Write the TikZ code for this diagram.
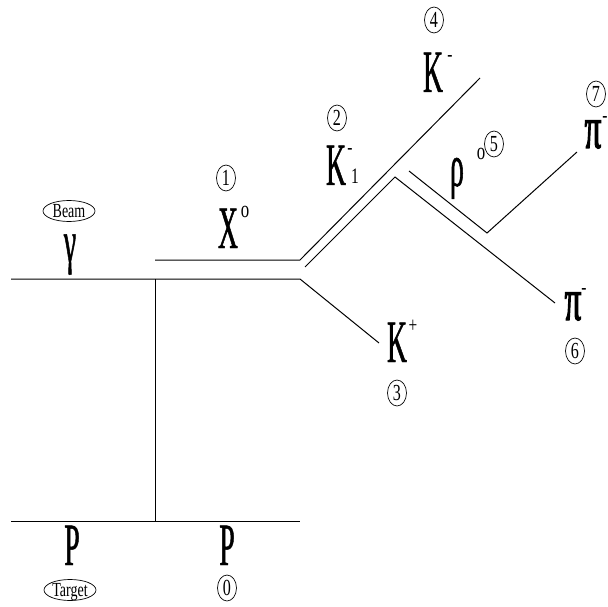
\documentclass[tikz,border=0pt]{standalone}
\usepackage{fontspec}
\setmainfont{Liberation Serif}
\newfontfamily\bigcond[FakeStretch=0.46,FakeBold=0.8]{Liberation Serif}
\newfontfamily\greekcond[FakeStretch=0.55,FakeBold=1.8]{Liberation Serif}
\newfontfamily\smallcond[FakeStretch=0.7]{Liberation Serif}
\usetikzlibrary{shapes.geometric}
\begin{document}
\begin{tikzpicture}[x=1pt,y=-1pt,
  particle/.style={font=\bigcond\fontsize{60}{60}\selectfont, inner sep=0pt, anchor=base,
    text height=30pt, text depth=0pt},
  lowgreek/.style={particle, text height=22pt, text depth=12pt},
  greek/.style={font=\greekcond\fontsize{60}{60}\selectfont, inner sep=0pt, anchor=base,
    text height=24pt, text depth=0pt},
  supo/.style={font=\smallcond\fontsize{24}{24}\selectfont, inner sep=0pt,
    text height=10pt, text depth=0pt},
  supsign/.style={font=\smallcond\fontsize{22}{22}\selectfont, inner sep=0pt,
    text height=10pt, text depth=0pt},
  tag/.style={draw, ellipse, line width=0.7pt, inner sep=0pt, minimum width=19pt,
    minimum height=26pt, text height=15pt, text depth=0pt,
    font=\smallcond\fontsize{23}{23}\selectfont},
  role/.style={draw, ellipse, line width=0.7pt, inner sep=0pt, minimum width=52pt,
    minimum height=21pt, text height=13pt, text depth=0pt,
    font=\smallcond\fontsize{20}{20}\selectfont},
  track/.style={line width=1pt, line join=miter}]
\useasboundingbox (0,0) rectangle (608,607);

% vertices and track ends
\coordinate (beamIn) at (11,279);
\coordinate (vBeam) at (155,279);
\coordinate (vSplit) at (300,279);
\coordinate (kPlusEnd) at (379,343);
\coordinate (xStart) at (155,260);
\coordinate (xEnd) at (300,260);
\coordinate (kMinusEnd) at (480,78);
\coordinate (kOneIn) at (305,267);
\coordinate (vKone) at (395,177);
\coordinate (piSixEnd) at (555,303);
\coordinate (rhoStart) at (409,171);
\coordinate (vRho) at (487,233);
\coordinate (piSevenEnd) at (577,152);
\coordinate (targetIn) at (11,521);
\coordinate (vTarget) at (155,521);
\coordinate (targetOut) at (300,521);

% tracks
\draw[track] (beamIn) -- (vBeam) -- (vSplit) -- (kPlusEnd);
\draw[track] (xStart) -- (xEnd) -- (kMinusEnd);
\draw[track] (kOneIn) -- (vKone) -- (piSixEnd);
\draw[track] (rhoStart) -- (vRho) -- (piSevenEnd);
\draw[track] (vBeam) -- (vTarget);
\draw[track] (targetIn) -- (targetOut);

% beam and target
\node[role] (beam) at (69,211) {Beam};
\node[lowgreek] (gamma) at (70,262) {γ};
\node[particle] (pIn) at (72,565) {P};
\node[role] (target) at (70,590) {Target};
\node[particle] (pOut) at (227,565) {P};
\node[tag] (n0) at (227,588) {0};

% X0
\node[tag] (n1) at (226,178) {1};
\node[particle] (xz) at (228,248) {X};
\node[supo] (xzs) at (245,213) {o};

% K1-
\node[tag] (n2) at (337,118) {2};
\node[particle] (kone) at (336,185) {K};
\node[supsign] (kones) at (350,150) {-};
\node[supsign] (koneb) at (355,178) {1};

% K+
\node[particle] (kp) at (397,362) {K};
\node[supsign] (kps) at (413,327) {+};
\node[tag] (n3) at (397,393) {3};

% K-
\node[tag] (n4) at (434,20) {4};
\node[particle] (km) at (433,92) {K};
\node[supsign] (kms) at (450,57) {-};

% rho0
\node[lowgreek] (rho) at (457,186) {ρ};
\node[supo] (rhos) at (481,155) {o};
\node[tag] (n5) at (494,144) {5};

% pi- from rho
\node[greek] (pisix) at (573,320) {π};
\node[supsign] (pisixs) at (584,289) {-};
\node[tag] (n6) at (575,351) {6};

\node[tag] (n7) at (596,94) {7};
\node[greek] (piseven) at (593,148) {π};
\node[supsign] (pisevens) at (605,118) {-};
\end{tikzpicture}
\end{document}
